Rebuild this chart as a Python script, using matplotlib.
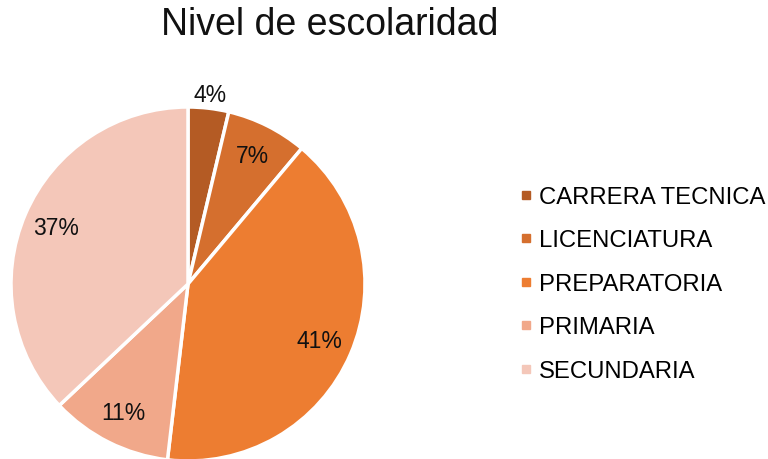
import matplotlib
matplotlib.use("Agg")
import matplotlib.pyplot as plt
from matplotlib.lines import Line2D
import numpy as np

plt.rcParams['font.family'] = ['Liberation Sans', 'DejaVu Sans']

categories = ["CARRERA TECNICA", "LICENCIATURA", "PREPARATORIA", "PRIMARIA", "SECUNDARIA"]
counts = [1, 2, 11, 3, 10]
colors = ["#B45B24", "#D56F2E", "#ED7D31", "#F1A88A", "#F4C7B9"]
title = "Nivel de escolaridad"

W, H = 768, 460
fig = plt.figure(figsize=(W / 100, H / 100), dpi=100)
cx, cy, r = 188, 285, 177
ax = fig.add_axes([(cx - r) / W, (H - cy - r) / H, 2 * r / W, 2 * r / H])

total = sum(counts)
wedges, texts = ax.pie(counts, colors=colors, startangle=90, counterclock=False,
                       wedgeprops=dict(edgecolor="white", linewidth=2.5))
ax.set_xlim(-1, 1)
ax.set_ylim(-1, 1)
ax.set_aspect("equal")
ax.axis("off")

ang = 90.0
for i, (w, c) in enumerate(zip(wedges, counts)):
    frac = c / total
    mid = np.deg2rad(ang - frac * 360 / 2)
    ang -= frac * 360
    d = 1.08 if frac < 0.05 else 0.81
    ax.text(d * np.cos(mid), d * np.sin(mid), f"{round(frac * 100):d}%",
            ha="center", va="center", fontsize=16.5, color="#111111")

fig.text(330 / W, 1 - 25 / H, title, ha="center", va="center", fontsize=27, color="#111111")

handles = [Line2D([0], [0], marker="s", linestyle="none", markersize=6,
                  markerfacecolor=c, markeredgecolor=c) for c in colors]
fig.legend(handles, categories, loc="center left", bbox_to_anchor=(519 / W, 1 - 285 / H),
           frameon=False, fontsize=17.2, labelspacing=0.9, handletextpad=0.25,
           handlelength=0.6, borderpad=0, borderaxespad=0)

fig.savefig("out.png", dpi=100)
